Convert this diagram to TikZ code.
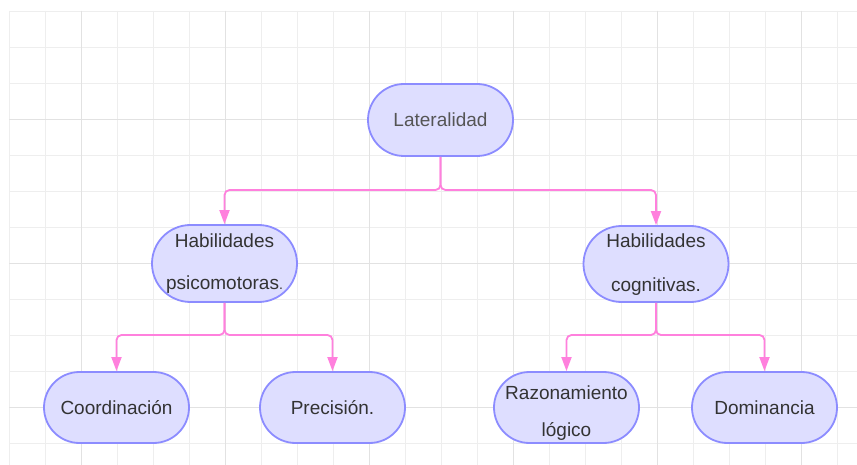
\documentclass[tikz,border=0pt]{standalone}
\usepackage{fontspec}
\setmainfont{Liberation Sans}
\usetikzlibrary{arrows.meta,shapes.misc}
\definecolor{nodefill}{HTML}{DEDEFF}
\definecolor{nodedraw}{HTML}{8C8CFF}
\definecolor{edgec}{HTML}{FF80DD}
\definecolor{gridminor}{HTML}{EEEEEE}
\definecolor{gridmajor}{HTML}{E2E2E2}
\definecolor{textc}{HTML}{333333}
\definecolor{textl}{HTML}{555555}
\begin{document}
\begin{tikzpicture}[x=1pt,y=-1pt,
  box/.style={rounded rectangle, draw=nodedraw, line width=1.8pt, fill=nodefill,
    minimum width=145pt, minimum height=72pt, inner sep=0pt},
  lbl/.style={align=center, text=textc, font=\fontsize{19}{42}\selectfont, inner sep=0pt},
  link/.style={draw=edgec, line width=1.8pt, rounded corners=5pt,
    -{Triangle[length=14pt,width=10pt]}}]
\useasboundingbox (0,0) rectangle (857,465);
\fill[white] (0,0) rectangle (857,465);
% grid
\foreach \x in {9,45,...,857} \draw[gridminor, line width=0.8pt] (\x,11) -- (\x,465);
\foreach \y in {11,47,...,465} \draw[gridminor, line width=0.8pt] (9,\y) -- (857,\y);
\foreach \x in {81,225,...,857} \draw[gridmajor, line width=0.8pt] (\x,11) -- (\x,465);
\foreach \y in {119,263,407} \draw[gridmajor, line width=0.8pt] (9,\y) -- (857,\y);
% nodes
\node[box] (lat) at (440.5,120) {};
\node[box, minimum height=77pt] (psi) at (224.5,263.5) {};
\node[box, minimum height=76pt] (cog) at (656,264) {};
\node[box, minimum height=71pt] (coo) at (116.5,407.5) {};
\node[box, minimum height=71pt] (pre) at (332.5,407.5) {};
\node[box, minimum height=71pt] (raz) at (566.5,407.5) {};
\node[box, minimum height=71pt] (dom) at (764.5,407.5) {};
% labels
\node[lbl, text=textl] (tlat) at (lat.center) {Lateralidad};
\node[lbl] (tpsi) at (psi.center) {Habilidades\\psicomotoras{\fontsize{14}{14}\selectfont.}};
\node[lbl, font=\fontsize{19}{44}\selectfont] (tcog) at ([yshift=-1pt]cog.center) {Habilidades\\cognitivas.};
\node[lbl] (tcoo) at (coo.center) {Coordinación};
\node[lbl] (tpre) at (pre.center) {Precisión.};
\node[lbl, font=\fontsize{19}{37}\selectfont] (traz) at ([yshift=-6pt]raz.center) {Razonamiento\\lógico};
\node[lbl] (tdom) at (dom.center) {Dominancia};
% junctions
\coordinate (j1) at (440.5,190);
\coordinate (j2) at (224.5,335);
\coordinate (j3) at (656,335);
% connectors
\draw[link] (lat.south) -- (j1) -| (psi.north);
\draw[link] (lat.south) -- (j1) -| (cog.north);
\draw[link] (psi.south) -- (j2) -| (coo.north);
\draw[link] (psi.south) -- (j2) -| (pre.north);
\draw[link] (cog.south) -- (j3) -| (raz.north);
\draw[link] (cog.south) -- (j3) -| (dom.north);
\end{tikzpicture}
\end{document}
